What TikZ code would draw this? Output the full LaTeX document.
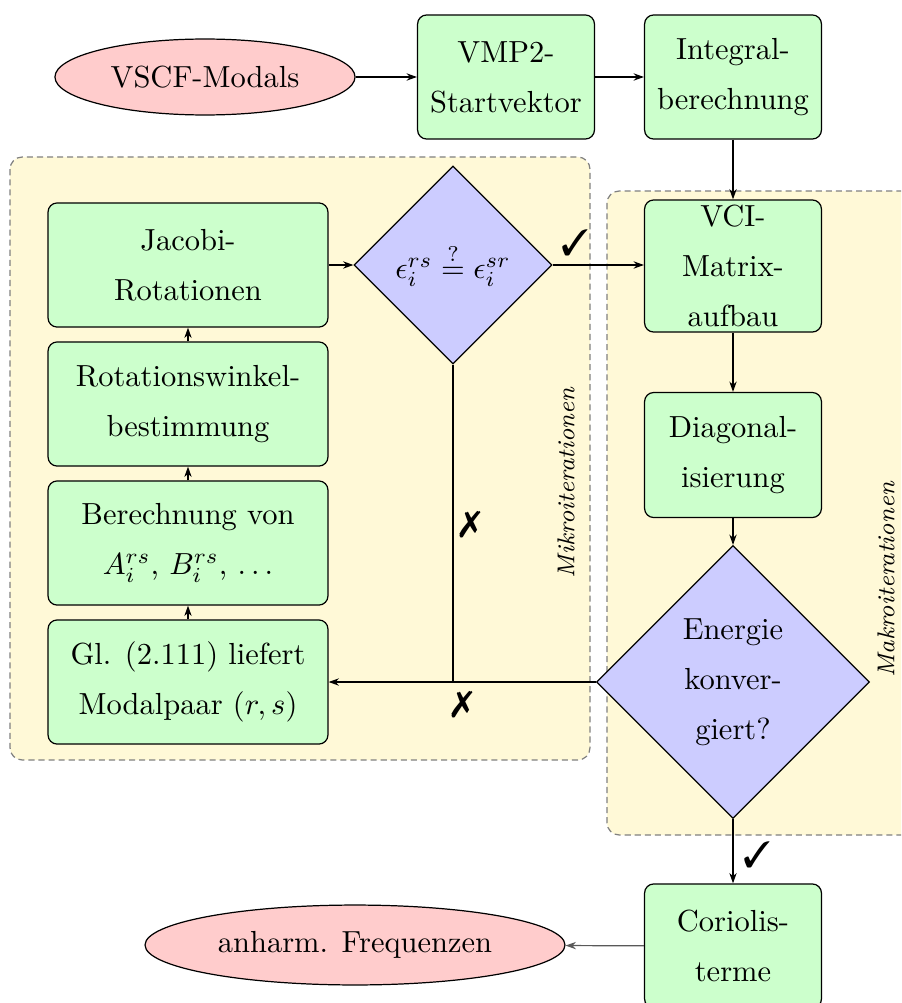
\documentclass[tikz,border=0pt]{standalone}
\usepackage{pifont}
\usetikzlibrary{shapes.geometric,arrows.meta}

\definecolor{boxgreen}{RGB}{204,255,204}
\definecolor{termpink}{RGB}{255,204,204}
\definecolor{decblue}{RGB}{204,204,255}
\definecolor{loopyellow}{RGB}{255,249,215}

\tikzset{
  txt/.style={font=\fontsize{10pt}{16.4pt}\selectfont, align=center, inner sep=0pt},
  stepbox/.style={txt, draw, fill=boxgreen, rounded corners=3pt, line width=0.4pt},
  smallbox/.style={stepbox, minimum width=58pt, minimum height=40.7pt},
  widebox/.style={stepbox, minimum width=91.8pt, minimum height=40.7pt},
  terminal/.style={txt, draw, fill=termpink, ellipse, line width=0.4pt},
  decision/.style={txt, draw, fill=decblue, diamond, aspect=1, line width=0.4pt},
  loopbg/.style={draw=black!50, fill=loopyellow, rounded corners=4pt, dash pattern=on 2pt off 1.3pt, line width=0.4pt},
  looplabel/.style={font=\footnotesize\itshape, rotate=90, inner sep=0pt},
  arr/.style={-{Stealth[length=3.4pt,width=2.4pt]}, line width=0.4pt},
  decmark/.style={font=\large, inner sep=0pt}
}

\begin{document}
\begin{tikzpicture}[x=0.3279pt, y=-0.3279pt]
  \useasboundingbox (0,0) rectangle (901,1003);
  \clip (0,0) rectangle (901,1003);

  % iteration loop backgrounds
  \draw[loopbg] (10,157) rectangle (590,760);
  \draw[loopbg] (607,191) rectangle (940,835);
  \node[looplabel] (mikro) at (566,483) {Mikroiterationen};
  \node[looplabel] (makro) at (886,580) {Makroiterationen};

  % top row
  \node[terminal, minimum width=98.4pt, minimum height=24.9pt] (vscf) at (205,77) {VSCF-Modals};
  \node[smallbox] (vmp2) at (506,77) {VMP2-\\Startvektor};
  \node[smallbox] (integ) at (733,77) {Integral-\\berechnung};

  % macro iteration column
  \node[stepbox, minimum width=58pt, minimum height=43.3pt] (vci) at (733,266) {VCI-\\Matrix-\\aufbau};
  \node[stepbox, minimum width=58pt, minimum height=41pt] (diag) at (733,455) {Diagonal-\\isierung};
  \node[decision, minimum width=89.5pt, minimum height=89.5pt] (energ) at (733,682) {Energie\\konver-\\giert?};
  \node[smallbox] (corio) at (733,946) {Coriolis-\\terme};
  \node[terminal, minimum width=137.7pt, minimum height=26.2pt] (anh) at (355,945) {anharm. Frequenzen};

  % micro iteration column
  \node[widebox] (jacobi) at (188,265) {Jacobi-\\Rotationen};
  \node[widebox] (winkel) at (188,404) {Rotationswinkel-\\bestimmung};
  \node[widebox] (ber) at (188,543) {Berechnung von\\$A_i^{rs}$, $B_i^{rs}$, $\ldots$};
  \node[widebox] (gl) at (188,682) {Gl. (2.111) liefert\\Modalpaar $(r,s)$};
  \node[decision, minimum width=64.9pt, minimum height=64.9pt] (eps) at (453,265) {$\epsilon_i^{rs} \stackrel{?}{=} \epsilon_i^{sr}$};
  \coordinate (join) at (eps.south |- gl.east);

  % connectors
  \draw[arr] (vscf) -- (vmp2);
  \draw[arr] (vmp2) -- (integ);
  \draw[arr] (integ) -- (vci);
  \draw[arr] (jacobi) -- (eps);
  \draw[arr] (eps.east) -- (vci.west |- eps.east);
  \draw[arr] (vci) -- (diag);
  \draw[arr] (diag) -- (energ);
  \draw[arr] (energ.west) -- (gl.east);
  \draw (eps.south) -- (join);
  \draw[arr] (gl) -- (ber);
  \draw[arr] (ber) -- (winkel);
  \draw[arr] (winkel) -- (jacobi);
  \draw[arr] (energ) -- (corio);
  \draw[arr, black!65] (corio) -- (anh);

  % decision marks
  \node[decmark] (ok1) at (575,243) {\ding{51}};
  \node[decmark] (no1) at (470,525) {\ding{55}};
  \node[decmark] (no2) at (462,705) {\ding{55}};
  \node[decmark] (ok2) at (757,855) {\ding{51}};
\end{tikzpicture}
\end{document}
